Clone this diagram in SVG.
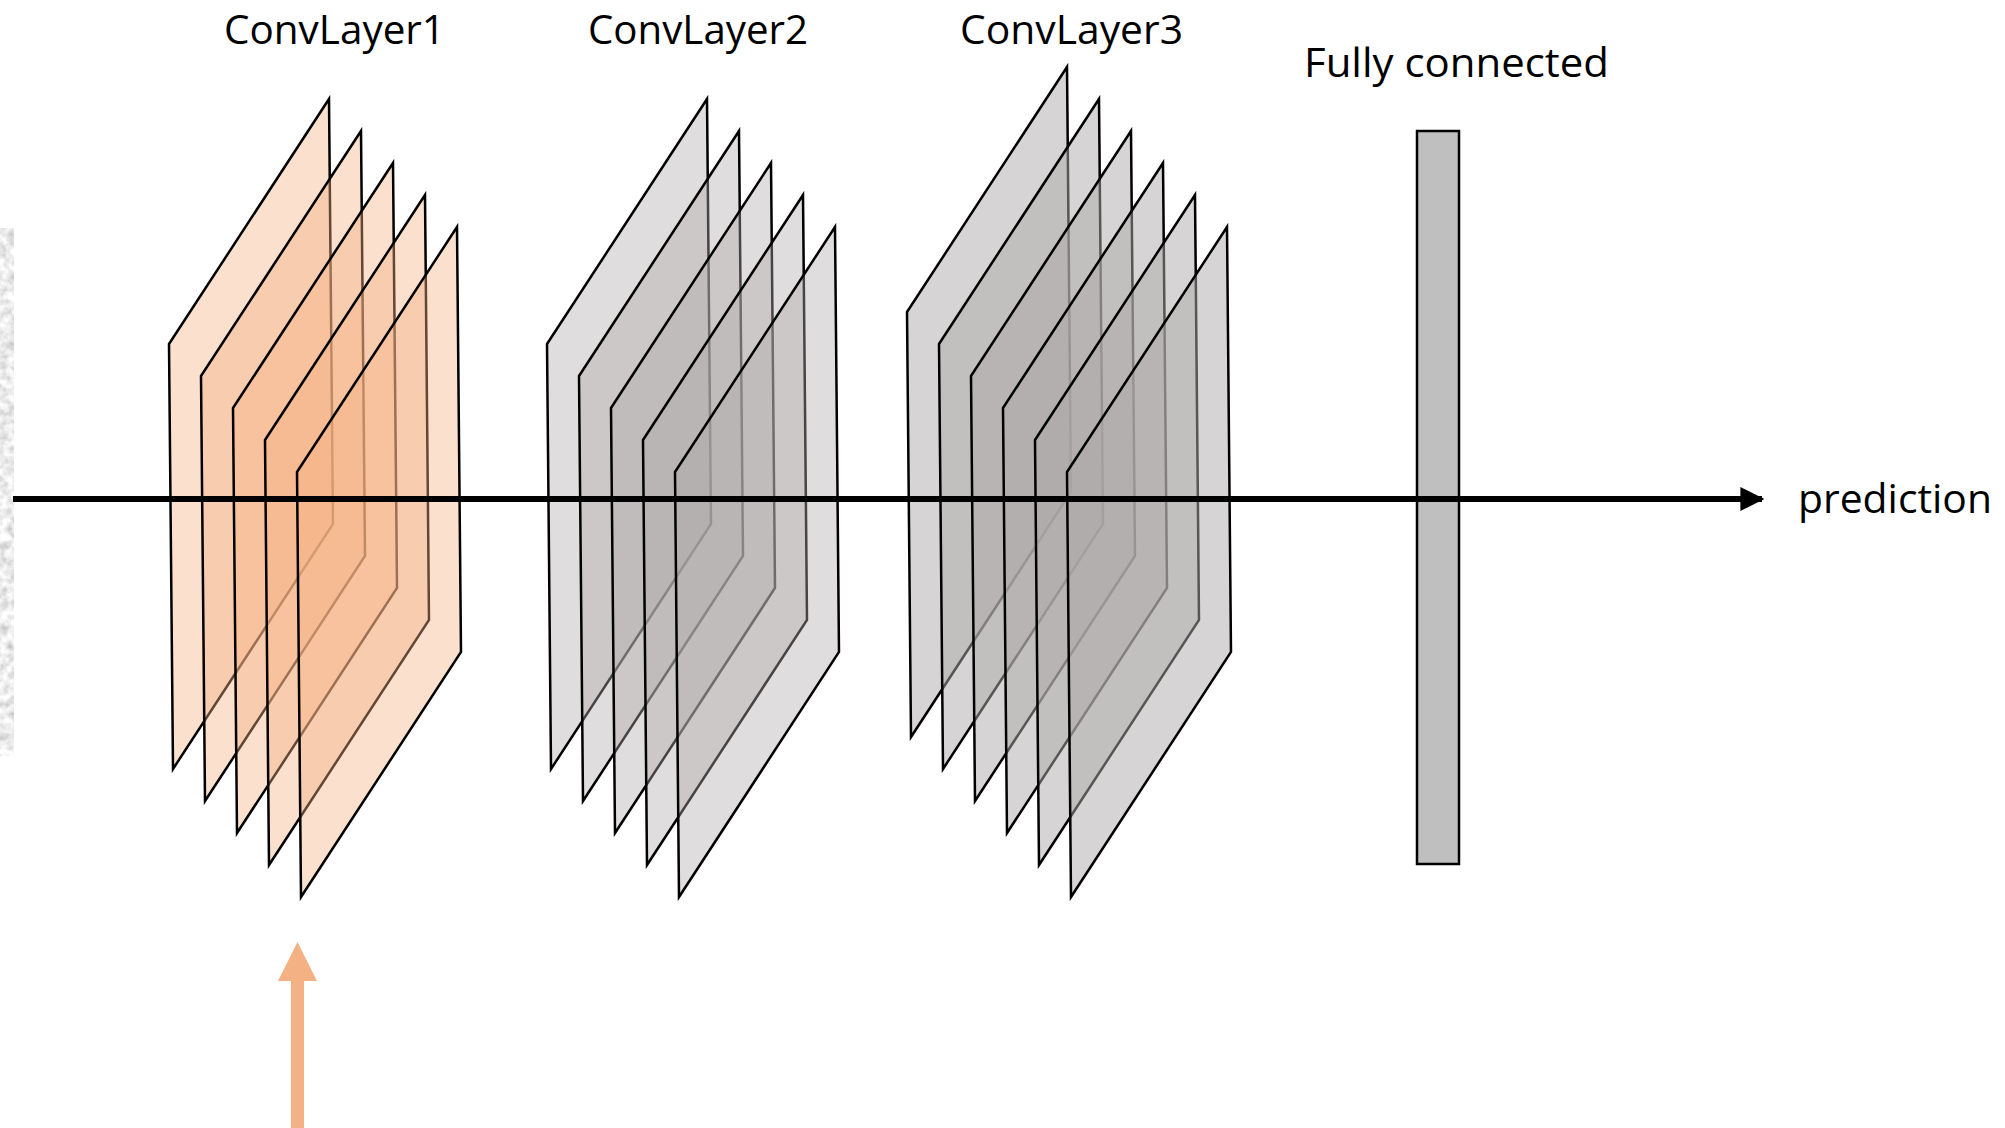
<svg xmlns="http://www.w3.org/2000/svg" width="2005" height="1128" viewBox="0 0 2005 1128">
  <defs>
    <style>
      .label { font-family: "Open Sans", "Liberation Sans", sans-serif; font-size: 41px; fill: #000; }
      .plane { stroke: #000; stroke-width: 2.5; stroke-linejoin: miter; }
      .orange { fill: #F4B183; fill-opacity: 0.4; }
      .grey2 { fill: #AEAAAA; fill-opacity: 0.4; }
      .grey3 { fill: #AEAAAA; fill-opacity: 0.5; }
      .axis { stroke: #000; stroke-width: 6; fill: none; }
    </style>
    <!-- one feature map: a slanted sheet seen in perspective -->
    <path id="sheet" d="M0,0 L160,-245 L164,180 L4,425 Z"/>
    <marker id="head" viewBox="0 0 10 10" refX="9" refY="5" markerWidth="4" markerHeight="4.2" markerUnits="strokeWidth" orient="auto">
      <path d="M0,0 L10,5 L0,10 Z" fill="#000"/>
    </marker>
    <!-- blotchy grey texture for the input image edge -->
    <filter id="grain" x="0" y="0" width="100%" height="100%">
      <feTurbulence type="fractalNoise" baseFrequency="0.12" numOctaves="3" seed="7" result="n"/>
      <feColorMatrix in="n" type="matrix" values="0.75 0 0 0 0.47  0.75 0 0 0 0.47  0.75 0 0 0 0.47  0 0 0 0 1"/>
    </filter>
  </defs>

  <!-- input image edge -->
  <rect id="input-strip" x="0" y="228" width="14" height="528" fill="#d8d8d8" filter="url(#grain)"/>

  <!-- convolution layer 1: five orange feature maps -->
  <g id="conv1">
    <use href="#sheet" class="plane orange" x="169" y="344"/>
    <use href="#sheet" class="plane orange" x="201" y="376"/>
    <use href="#sheet" class="plane orange" x="233" y="408"/>
    <use href="#sheet" class="plane orange" x="265" y="440"/>
    <use href="#sheet" class="plane orange" x="297" y="472"/>
  </g>

  <!-- convolution layer 2: five grey feature maps -->
  <g id="conv2">
    <use href="#sheet" class="plane grey2" x="547" y="344"/>
    <use href="#sheet" class="plane grey2" x="579" y="376"/>
    <use href="#sheet" class="plane grey2" x="611" y="408"/>
    <use href="#sheet" class="plane grey2" x="643" y="440"/>
    <use href="#sheet" class="plane grey2" x="675" y="472"/>
  </g>

  <!-- convolution layer 3: six grey feature maps -->
  <g id="conv3">
    <use href="#sheet" class="plane grey3" x="907" y="312"/>
    <use href="#sheet" class="plane grey3" x="939" y="344"/>
    <use href="#sheet" class="plane grey3" x="971" y="376"/>
    <use href="#sheet" class="plane grey3" x="1003" y="408"/>
    <use href="#sheet" class="plane grey3" x="1035" y="440"/>
    <use href="#sheet" class="plane grey3" x="1067" y="472"/>
  </g>

  <!-- fully connected layer -->
  <g id="fc">
    <rect x="1417" y="131" width="42" height="733" fill="#BFBFBF" stroke="#000" stroke-width="2.5"/>
  </g>

  <!-- connectors -->
  <g id="connectors">
    <line class="axis" x1="13" y1="499" x2="1762" y2="499" marker-end="url(#head)"/>
    <path id="input-arrow" d="M291,1128 L291,981 L278,981 L297.5,942 L317,981 L304,981 L304,1128 Z" fill="#F4B183"/>
  </g>

  <!-- labels -->
  <g id="labels">
    <text class="label" x="224" y="44" textLength="221" lengthAdjust="spacingAndGlyphs">ConvLayer1</text>
    <text class="label" x="588" y="44" textLength="220" lengthAdjust="spacingAndGlyphs">ConvLayer2</text>
    <text class="label" x="960" y="44" textLength="223" lengthAdjust="spacingAndGlyphs">ConvLayer3</text>
    <text class="label" x="1304" y="77" textLength="305" lengthAdjust="spacingAndGlyphs">Fully connected</text>
    <text class="label" x="1798" y="513" textLength="194" lengthAdjust="spacingAndGlyphs">prediction</text>
  </g>
</svg>
